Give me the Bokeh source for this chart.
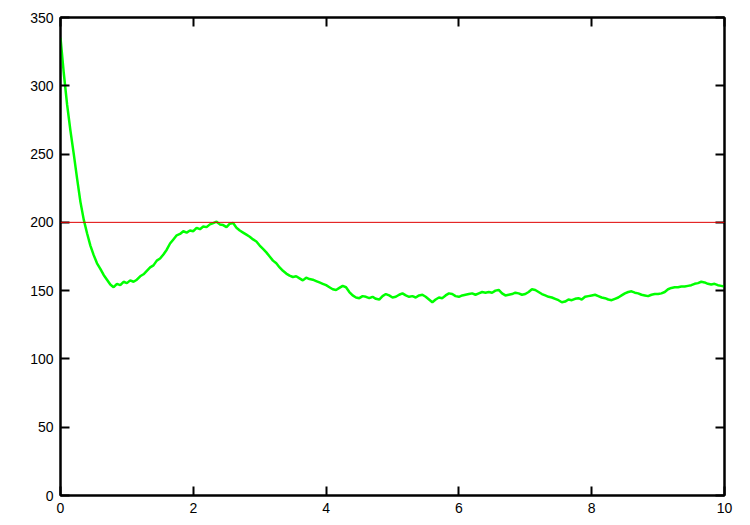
import numpy as np
from bokeh.plotting import figure
from bokeh.models import LinearAxis, Span, FixedTicker
from bokeh.embed import file_html
from bokeh.resources import INLINE

# green trace at steps of 0.05 on x
y_green = [
    335, 309, 286, 267, 250, 232, 215, 202, 192, 183,
    176, 170, 166, 161.5, 158, 154.5, 152.5, 155, 154, 156.5,
    155.5, 157.5, 156.5, 158, 160.5, 162, 164.5, 167, 168.5, 172,
    173.5, 176.5, 180, 184.5, 187.5, 190.5, 191.5, 193.5, 192.5, 194,
    193.5, 196, 195, 197, 196.5, 198.5, 199.5, 200.5, 198.5, 198,
    196.5, 199, 199.5, 196, 194, 192.5, 191, 189.5, 187.5, 186,
    183, 180.5, 178, 175, 172, 170, 167, 164.5, 162.5, 161,
    160, 160.5, 159, 157.5, 159.5, 158.5, 158, 157, 156, 155,
    154, 152.5, 151, 150.5, 152, 153.5, 152.5, 149, 146.5, 145,
    144.5, 146, 145.5, 144.5, 145.5, 144, 143.5, 146, 147.5, 146.5,
    145, 145.5, 147, 148, 146.5, 145.5, 146, 145, 146.5, 147,
    145.5, 143.5, 141.5, 143.5, 145, 144.5, 146.5, 148, 147.5, 146,
    145.5, 146.5, 147, 147.5, 148, 147, 148, 149, 148.5, 149,
    148.5, 150, 150.5, 148, 146.5, 147, 147.5, 148.5, 148, 147,
    147.5, 149, 151, 150.5, 149, 147.5, 146.5, 145.5, 145, 144,
    143, 141.5, 142, 143.5, 143, 144, 144.5, 143.5, 145.5, 146,
    146.5, 147, 146, 145, 144.5, 143.5, 143, 144, 145, 146.5,
    148, 149, 149.5, 148.5, 148, 147, 146.5, 146, 147, 147.5,
    147.5, 148, 149, 151, 152, 152.5, 152.5, 153, 153, 153.5,
    154, 155, 155.5, 156.5, 156, 155, 154.5, 155, 154, 153.5,
    153,
]
x_green = np.linspace(0, 10, len(y_green))

threshold = 200
x_ticks = [0, 2, 4, 6, 8, 10]
y_ticks = [0, 50, 100, 150, 200, 250, 300, 350]

p = figure(width=742, height=517, output_backend="svg", toolbar_location=None,
           tools="", x_range=(0, 10), y_range=(0, 350),
           min_border_left=60, min_border_top=17, min_border_right=18,
           min_border_bottom=22, frame_width=664, frame_height=478)
p.xgrid.visible = False
p.ygrid.visible = False
p.outline_line_color = "black"
p.outline_line_width = 2
p.background_fill_color = "white"
p.border_fill_color = "white"

p.add_layout(Span(location=threshold, dimension="width", line_color="#e00000", line_width=1))
p.line(x_green, y_green, line_color="#00ff00", line_width=2.5)

p.add_layout(LinearAxis(), "above")
p.add_layout(LinearAxis(), "right")

for ax in p.xaxis:
    ax.ticker = FixedTicker(ticks=x_ticks)
for ax in p.yaxis:
    ax.ticker = FixedTicker(ticks=y_ticks)

for ax in p.axis:
    ax.axis_line_color = "black"
    ax.axis_line_width = 2
    ax.major_tick_line_color = "black"
    ax.major_tick_line_width = 2
    ax.major_tick_in = 9
    ax.major_tick_out = 0
    ax.minor_tick_line_color = None
    ax.major_label_text_font = "Liberation Sans"
    ax.major_label_text_font_size = "14px"
    ax.major_label_text_color = "black"
    ax.major_label_standoff = 7

# mirrored ticks on top and right, without labels
for ax in p.above + p.right:
    ax.major_label_overrides = {t: "" for t in (x_ticks if ax in p.above else y_ticks)}
    ax.major_label_standoff = 0

open("out.html", "w").write(file_html(p, INLINE))
